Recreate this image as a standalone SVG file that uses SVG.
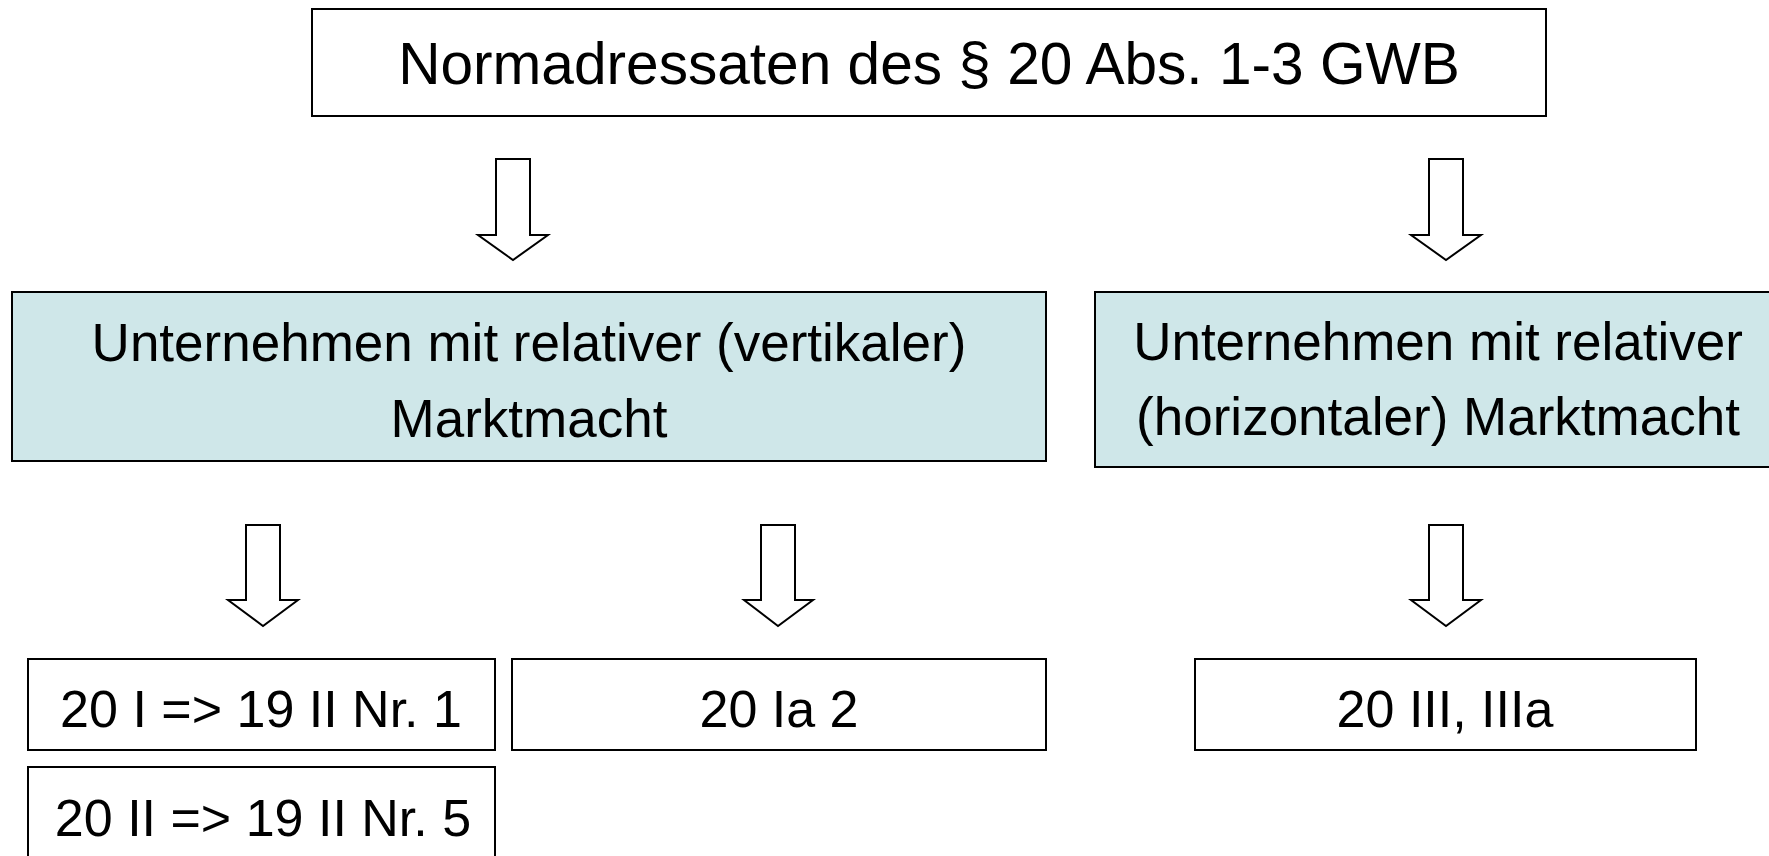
<svg xmlns="http://www.w3.org/2000/svg" width="1769" height="856" viewBox="0 0 1769 856">
<style>
.box{fill:#ffffff;stroke:#000000;stroke-width:2}
.blue{fill:#cfe7e9;stroke:#000000;stroke-width:2}
.arr{fill:#ffffff;stroke:#000000;stroke-width:2;stroke-linejoin:miter}
text{font-family:"Liberation Sans",Arial,sans-serif;fill:#000000;text-anchor:middle}
</style>
<rect width="1769" height="856" fill="#ffffff"/>
<g id="connectors">
<path class="arr" d="M496,159 H530 V235 H548 L513,260 L478,235 H496 Z"/>
<path class="arr" d="M1429,159 H1463 V235 H1481 L1446,260 L1411,235 H1429 Z"/>
<path class="arr" d="M246,525 H280 V600 H298 L263,626 L228,600 H246 Z"/>
<path class="arr" d="M761,525 H795 V600 H813 L778,626 L744,600 H761 Z"/>
<path class="arr" d="M1429,525 H1463 V600 H1481 L1446,626 L1411,600 H1429 Z"/>
</g>
<g id="top">
<rect class="box" x="312" y="9" width="1234" height="107"/>
<text x="929" y="84" font-size="58.6">Normadressaten des § 20 Abs. 1-3 GWB</text>
</g>
<g id="vertical">
<rect class="blue" x="12" y="292" width="1034" height="169"/>
<text x="529" y="361" font-size="53">Unternehmen mit relativer (vertikaler)</text>
<text x="529" y="437" font-size="53">Marktmacht</text>
</g>
<g id="horizontal">
<rect class="blue" x="1095" y="292" width="700" height="175"/>
<text x="1438" y="360" font-size="53">Unternehmen mit relativer</text>
<text x="1438" y="435" font-size="53">(horizontaler) Marktmacht</text>
</g>
<g id="b1">
<rect class="box" x="28" y="659" width="467" height="91"/>
<text x="261" y="727" font-size="52">20 I =&gt; 19 II Nr. 1</text>
</g>
<g id="b2">
<rect class="box" x="512" y="659" width="534" height="91"/>
<text x="779" y="727" font-size="52">20 Ia 2</text>
</g>
<g id="b3">
<rect class="box" x="1195" y="659" width="501" height="91"/>
<text x="1445" y="727" font-size="52">20 III, IIIa</text>
</g>
<g id="b4">
<rect class="box" x="28" y="767" width="467" height="100"/>
<text x="263" y="836" font-size="52">20 II =&gt; 19 II Nr. 5</text>
</g>
</svg>
